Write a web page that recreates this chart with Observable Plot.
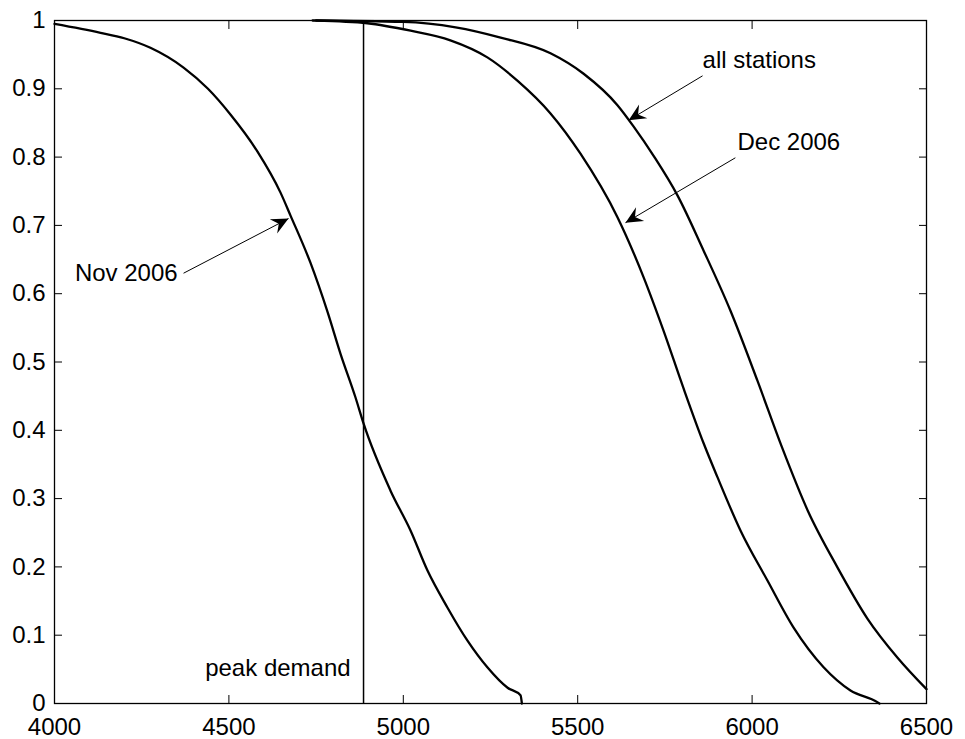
<!DOCTYPE html>
<html>
<head>
<meta charset="utf-8">
<script src="https://cdn.jsdelivr.net/npm/d3@7"></script>
<script src="https://cdn.jsdelivr.net/npm/@observablehq/plot@0.6"></script>
<style>
  html, body { margin: 0; padding: 0; background: #fff; }
  #chart svg { display: block; }
</style>
</head>
<body>
<div id="chart"></div>
<script>
// ---- data ----
const novX = [4000, 4132, 4200, 4275, 4370, 4440, 4505, 4582, 4648, 4677, 4734, 4783, 4820, 4863, 4886, 4963, 5021, 5069, 5126, 5184, 5241, 5299, 5336, 5340];
const novP = [0.995, 0.982, 0.974, 0.960, 0.931, 0.900, 0.862, 0.808, 0.748, 0.714, 0.645, 0.573, 0.512, 0.448, 0.410, 0.312, 0.253, 0.195, 0.141, 0.092, 0.053, 0.023, 0.012, 0.0];

const decX = [4750, 4897, 5021, 5135, 5241, 5327, 5422, 5508, 5614, 5689, 5746, 5803, 5861, 5901, 5967, 6044, 6119, 6205, 6282, 6359, 6365];
const decP = [1.0, 0.996, 0.985, 0.971, 0.946, 0.912, 0.864, 0.805, 0.712, 0.624, 0.546, 0.462, 0.381, 0.331, 0.253, 0.180, 0.111, 0.053, 0.019, 0.002, 0.0];

const allX = [4740, 5000, 5150, 5279, 5422, 5517, 5614, 5660, 5720, 5786, 5861, 5938, 6015, 6085, 6159, 6245, 6331, 6417, 6500];
const allP = [1.0, 0.998, 0.990, 0.975, 0.952, 0.922, 0.876, 0.845, 0.800, 0.744, 0.663, 0.575, 0.473, 0.376, 0.283, 0.199, 0.124, 0.067, 0.021];

const peakDemand = [4886];

const xTicks = [4000, 4500, 5000, 5500, 6000, 6500];
const xTickLabels = ["4000", "4500", "5000", "5500", "6000", "6500"];
const yTicks = [0, 0.1, 0.2, 0.3, 0.4, 0.5, 0.6, 0.7, 0.8, 0.9, 1];
const yTickLabels = ["0", "0.1", "0.2", "0.3", "0.4", "0.5", "0.6", "0.7", "0.8", "0.9", "1"];

const labelText = ["all stations", "Dec 2006", "Nov 2006", "peak demand"];
const labelX = [5858, 5958, 4353, 4849];
const labelY = [0.941, 0.821, 0.630, 0.051];
const labelAnchor = ["start", "start", "end", "end"];

const arrowX1 = [5858, 5952, 4370];
const arrowY1 = [0.919, 0.799, 0.630];
const arrowX2 = [5646, 5637, 4671];
const arrowY2 = [0.854, 0.704, 0.710];

// ---- tables built from the arrays ----
const rows = [
  ...novX.map((x, i) => ({series: "Nov 2006", x, p: novP[i]})),
  ...decX.map((x, i) => ({series: "Dec 2006", x, p: decP[i]})),
  ...allX.map((x, i) => ({series: "all stations", x, p: allP[i]}))
];
const labels = labelText.map((t, i) => ({t, x: labelX[i], y: labelY[i], a: labelAnchor[i]}));
const arrows = arrowX1.map((x1, i) => ({x1, y1: arrowY1[i], x2: arrowX2[i], y2: arrowY2[i]}));

function arrowHead(color) {
  const ns = "http://www.w3.org/2000/svg";
  const m = document.createElementNS(ns, "marker");
  m.setAttribute("viewBox", "-18 -9 20 18");
  m.setAttribute("markerWidth", 20);
  m.setAttribute("markerHeight", 18);
  m.setAttribute("refX", 0);
  m.setAttribute("refY", 0);
  m.setAttribute("orient", "auto");
  m.setAttribute("markerUnits", "userSpaceOnUse");
  const p = document.createElementNS(ns, "path");
  p.setAttribute("d", "M0,0L-17,-8L-11,0L-17,8Z");
  p.setAttribute("fill", "black");
  p.setAttribute("stroke", "none");
  m.appendChild(p);
  return m;
}

const xFmt = d => xTickLabels[xTicks.indexOf(d)];
const yFmt = d => yTickLabels[yTicks.indexOf(d)];

const chart = Plot.plot({
  width: 965,
  height: 739,
  marginLeft: 54,
  marginRight: 39,
  marginTop: 20,
  marginBottom: 36,
  style: {fontFamily: "'Liberation Sans', Arial, sans-serif", fontSize: "24px", color: "black", background: "white"},
  x: {domain: [4000, 6500]},
  y: {domain: [0, 1]},
  marks: [
    Plot.frame({stroke: "black", strokeWidth: 1.3}),
    Plot.axisX({anchor: "bottom", ticks: xTicks, tickFormat: xFmt, tickSize: -8, tickPadding: 22, label: null, fontSize: 24}),
    Plot.axisX({anchor: "top", ticks: xTicks, tickFormat: () => "", tickSize: -8, label: null}),
    Plot.axisY({anchor: "left", ticks: yTicks, tickFormat: yFmt, tickSize: -8, tickPadding: 17, label: null, fontSize: 24}),
    Plot.axisY({anchor: "right", ticks: yTicks, tickFormat: () => "", tickSize: -8, label: null}),
    Plot.ruleX(peakDemand, {x: d => d, y1: 0, y2: 1, stroke: "black", strokeWidth: 1.5}),
    Plot.line(rows, {x: "x", y: "p", z: "series", curve: "monotone-x", stroke: "black", strokeWidth: 2.3}),
    Plot.link(arrows, {x1: "x1", y1: "y1", x2: "x2", y2: "y2", stroke: "black", strokeWidth: 1, markerEnd: arrowHead}),
    Plot.text(labels.filter(d => d.a === "start"), {x: "x", y: "y", text: "t", textAnchor: "start", fontSize: 24, fill: "black"}),
    Plot.text(labels.filter(d => d.a === "end"), {x: "x", y: "y", text: "t", textAnchor: "end", fontSize: 24, fill: "black"})
  ]
});
document.getElementById("chart").appendChild(chart);
</script>
</body>
</html>
